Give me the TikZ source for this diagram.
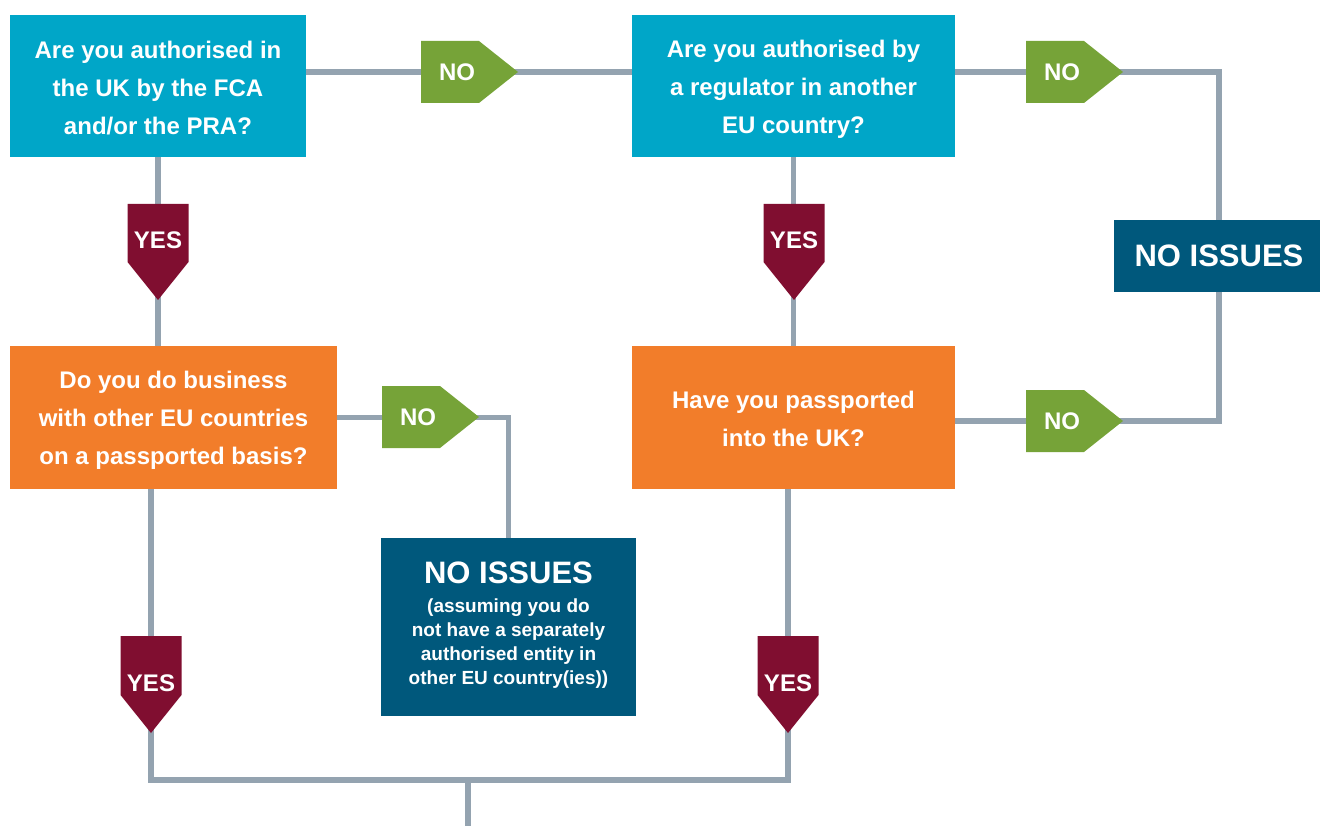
\documentclass[tikz,border=0pt]{standalone}
\usepackage{fontspec}
\setmainfont{Liberation Sans}
\definecolor{qcyan}{RGB}{0,166,200}
\definecolor{qorange}{RGB}{242,125,42}
\definecolor{issueblue}{RGB}{0,88,124}
\definecolor{nogreen}{RGB}{118,163,56}
\definecolor{yesred}{RGB}{128,14,48}
\definecolor{linegray}{RGB}{148,163,176}
\tikzset{
  conn/.style={draw=linegray, line width=5.5pt, line join=miter},
  qbox/.style={inner sep=0pt, align=center, text=white, font=\bfseries\fontsize{24}{38}\selectfont},
  cyanbox/.style={qbox, fill=qcyan},
  orangebox/.style={qbox, fill=qorange},
  issuebox/.style={fill=issueblue, inner sep=0pt, text=white},
  tagtext/.style={text=white, font=\bfseries\fontsize{24}{24}\selectfont, inner sep=0pt},
  issuetext/.style={text=white, inner sep=0pt, align=center},
}
\begin{document}
\begin{tikzpicture}[x=1pt,y=-1pt]
\useasboundingbox (0,0) rectangle (1320,826);
% boxes
\node[cyanbox, minimum width=296pt, minimum height=142pt] (q1) at (158,86) {\rule{0pt}{22pt}Are you authorised in\\the UK by the FCA\\and/or the PRA?};
\node[cyanbox, minimum width=323pt, minimum height=142pt] (q2) at (793.5,86) {\rule{0pt}{23.5pt}Are you authorised by\\a regulator in another\\EU country?};
\node[orangebox, minimum width=327pt, minimum height=143pt] (q3) at (173.5,417.5) {\rule{0pt}{23.5pt}Do you do business\\with other EU countries\\on a passported basis?};
\node[orangebox, minimum width=323pt, minimum height=143pt] (q4) at (793.5,417.5) {\rule{0pt}{21pt}Have you passported\\into the UK?};
\node[issuebox, minimum width=210pt, minimum height=72pt, font=\bfseries\fontsize{31}{31}\selectfont] (ni1) at (1219,256) {NO ISSUES};
\node[issuebox, minimum width=255pt, minimum height=178pt] (ni2) at (508.5,627) {};
\node[issuetext, font=\bfseries\fontsize{31}{31}\selectfont] (ni2a) at (508.5,573) {NO ISSUES};
\node[issuetext, font=\bfseries\fontsize{19}{24}\selectfont] (ni2b) at (508.5,644) {(assuming you do\\not have a separately\\authorised entity in\\other EU country(ies))};
% connectors
\coordinate (jn) at (468,780);
\coordinate (jend) at (468,830);
\draw[conn] ([yshift=14pt]q1.east) -- ([yshift=14pt]q2.west);
\draw[conn] ([yshift=14pt]q2.east) -| (ni1.north);
\draw[conn] (ni1.south) |- ([yshift=-3.5pt]q4.east);
\draw[conn] (q1.south) -- (q3.north -| q1.south);
\draw[conn] (q2.south) -- (q4.north -| q2.south);
\draw[conn] (q3.east) -| (ni2.north);
\draw[conn] ([xshift=-22.5pt]q3.south) |- (jn) -| ([xshift=-5.5pt]q4.south);
\draw[conn] (jn) -- (jend);
% NO tags
\fill[nogreen] (421,41) -- (479,41) -- (518,72) -- (479,103) -- (421,103) -- cycle;
\node[tagtext] (no1) at (457,72) {NO};
\fill[nogreen] (1026,41) -- (1084,41) -- (1123,72) -- (1084,103) -- (1026,103) -- cycle;
\node[tagtext] (no2) at (1062,72) {NO};
\fill[nogreen] (382,386) -- (440,386) -- (479,417) -- (440,448) -- (382,448) -- cycle;
\node[tagtext] (no3) at (418,417) {NO};
\fill[nogreen] (1026,390) -- (1084,390) -- (1123,421) -- (1084,452) -- (1026,452) -- cycle;
\node[tagtext] (no4) at (1062,421) {NO};
% YES tags
\fill[yesred] (127.5,204) -- (188.5,204) -- (188.5,262) -- (158,300) -- (127.5,262) -- cycle;
\node[tagtext] (yes1) at (158,240) {YES};
\fill[yesred] (763.5,204) -- (824.5,204) -- (824.5,262) -- (794,300) -- (763.5,262) -- cycle;
\node[tagtext] (yes2) at (794,240) {YES};
\fill[yesred] (120.5,636) -- (181.5,636) -- (181.5,695) -- (151,733) -- (120.5,695) -- cycle;
\node[tagtext] (yes3) at (151,683) {YES};
\fill[yesred] (757.5,636) -- (818.5,636) -- (818.5,695) -- (788,733) -- (757.5,695) -- cycle;
\node[tagtext] (yes4) at (788,683) {YES};
\end{tikzpicture}
\end{document}
